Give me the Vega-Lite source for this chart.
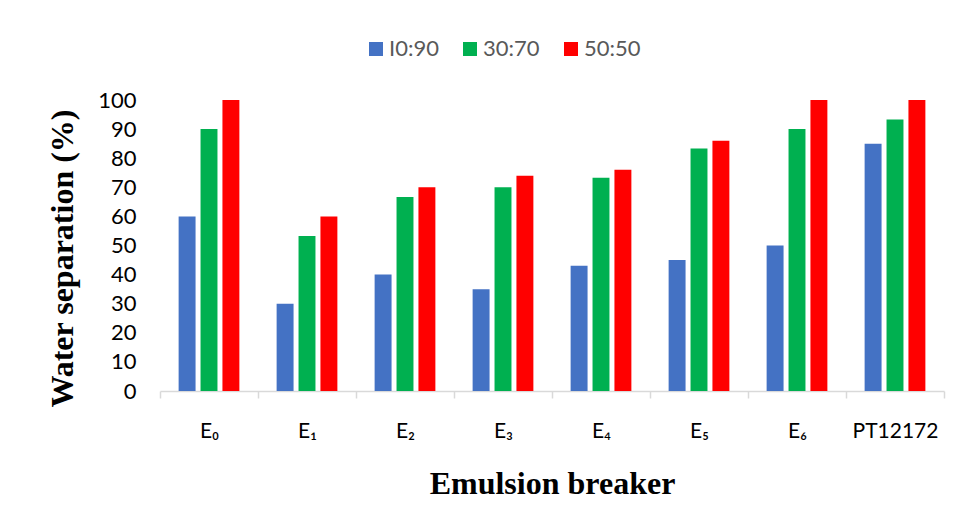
{
  "$schema": "https://vega.github.io/schema/vega-lite/v6.json",
  "width": 784,
  "height": 291,
  "autosize": {"type": "none"},
  "padding": {"left": 160, "top": 100, "right": 18, "bottom": 139},
  "background": "white",
  "config": {"view": {"stroke": null}},
  "data": {
    "values": [
      {"breaker": "E₀", "ratio": "I0:90", "value": 60},
      {"breaker": "E₀", "ratio": "30:70", "value": 90},
      {"breaker": "E₀", "ratio": "50:50", "value": 100},
      {"breaker": "E₁", "ratio": "I0:90", "value": 30},
      {"breaker": "E₁", "ratio": "30:70", "value": 53.3},
      {"breaker": "E₁", "ratio": "50:50", "value": 60},
      {"breaker": "E₂", "ratio": "I0:90", "value": 40},
      {"breaker": "E₂", "ratio": "30:70", "value": 66.7},
      {"breaker": "E₂", "ratio": "50:50", "value": 70},
      {"breaker": "E₃", "ratio": "I0:90", "value": 35},
      {"breaker": "E₃", "ratio": "30:70", "value": 70},
      {"breaker": "E₃", "ratio": "50:50", "value": 74},
      {"breaker": "E₄", "ratio": "I0:90", "value": 43},
      {"breaker": "E₄", "ratio": "30:70", "value": 73.3},
      {"breaker": "E₄", "ratio": "50:50", "value": 76},
      {"breaker": "E₅", "ratio": "I0:90", "value": 45},
      {"breaker": "E₅", "ratio": "30:70", "value": 83.3},
      {"breaker": "E₅", "ratio": "50:50", "value": 86},
      {"breaker": "E₆", "ratio": "I0:90", "value": 50},
      {"breaker": "E₆", "ratio": "30:70", "value": 90},
      {"breaker": "E₆", "ratio": "50:50", "value": 100},
      {"breaker": "PT12172", "ratio": "I0:90", "value": 85},
      {"breaker": "PT12172", "ratio": "30:70", "value": 93.3},
      {"breaker": "PT12172", "ratio": "50:50", "value": 100}
    ]
  },
  "mark": {"type": "bar"},
  "encoding": {
    "x": {
      "field": "breaker",
      "type": "nominal",
      "sort": ["E₀", "E₁", "E₂", "E₃", "E₄", "E₅", "E₆", "PT12172"],
      "scale": {"paddingInner": 0, "paddingOuter": 0},
      "axis": {
        "title": "Emulsion breaker",
        "titleFont": "Liberation Serif",
        "titleFontWeight": "bold",
        "titleFontSize": 32,
        "titleColor": "black",
        "titlePadding": 27,
        "labelAngle": 0,
        "labelFont": "Lato",
        "labelFontSize": 21,
        "labelColor": "black",
        "labelPadding": 22,
        "tickBand": "extent",
        "tickColor": "#D9D9D9",
        "tickWidth": 1.5,
        "tickSize": 7,
        "domainColor": "#D9D9D9",
        "domainWidth": 1.5,
        "grid": false
      }
    },
    "xOffset": {
      "field": "ratio",
      "type": "nominal",
      "sort": ["I0:90", "30:70", "50:50"],
      "scale": {"paddingInner": 0.227, "paddingOuter": 0.85}
    },
    "y": {
      "field": "value",
      "type": "quantitative",
      "scale": {"domain": [0, 100], "nice": false},
      "axis": {
        "title": "Water separation (%)",
        "titleFont": "Liberation Serif",
        "titleFontWeight": "bold",
        "titleFontSize": 32,
        "titleColor": "black",
        "titlePadding": 18,
        "titleY": 158,
        "values": [0, 10, 20, 30, 40, 50, 60, 70, 80, 90, 100],
        "labelFont": "Lato",
        "labelFontSize": 22,
        "labelColor": "black",
        "labelPadding": 24,
        "ticks": false,
        "domain": false,
        "grid": false
      }
    },
    "color": {
      "field": "ratio",
      "type": "nominal",
      "sort": ["I0:90", "30:70", "50:50"],
      "scale": {"domain": ["I0:90", "30:70", "50:50"], "range": ["#4472C4", "#00B050", "#FF0000"]},
      "legend": {
        "orient": "none",
        "legendX": 205,
        "legendY": -62,
        "direction": "horizontal",
        "title": null,
        "symbolType": "square",
        "symbolSize": 196,
        "symbolStrokeWidth": 0,
        "symbolOpacity": 1,
        "labelFont": "Lato",
        "labelFontSize": 22,
        "labelColor": "#595959",
        "labelOffset": 2,
        "columnPadding": 20
      }
    }
  }
}
